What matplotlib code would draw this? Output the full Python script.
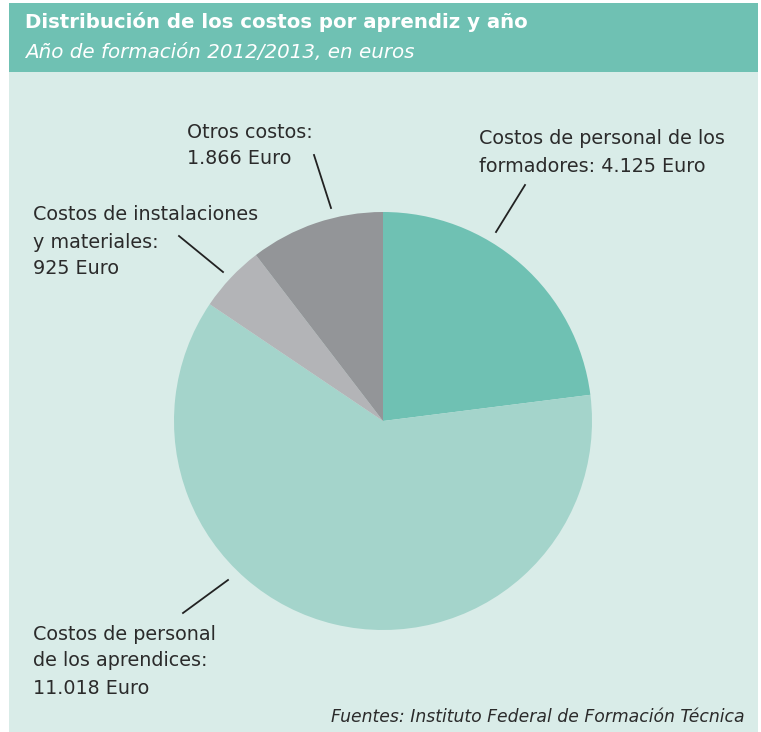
import matplotlib
matplotlib.use("Agg")
import matplotlib.pyplot as plt
from matplotlib.patches import Rectangle
from matplotlib.lines import Line2D

# ---- data ----
categories = [
    "Costos de personal de los formadores",
    "Costos de personal de los aprendices",
    "Costos de instalaciones y materiales",
    "Otros costos",
]
values = [4125, 11018, 925, 1866]
label_texts = [
    "Costos de personal de los\nformadores: 4.125 Euro",
    "Costos de personal\nde los aprendices:\n11.018 Euro",
    "Costos de instalaciones\ny materiales:\n925 Euro",
    "Otros costos:\n1.866 Euro",
]
colors = ["#6fc1b3", "#a4d4cb", "#b3b4b7", "#939598"]

title = "Distribución de los costos por aprendiz y año"
subtitle = "Año de formación 2012/2013, en euros"
source = "Fuentes: Instituto Federal de Formación Técnica"

W, H = 761, 732
fig = plt.figure(figsize=(W / 100, H / 100), dpi=100)
fig.patch.set_facecolor("white")

def fx(x):
    return x / W

def fy(y):
    return 1 - y / H

# panel background
fig.patches.append(Rectangle((fx(9), fy(732)), fx(758) - fx(9), fy(3) - fy(732),
                             transform=fig.transFigure, facecolor="#d9ece8",
                             edgecolor="none", zorder=-3))
# header band
fig.patches.append(Rectangle((fx(9), fy(72)), fx(758) - fx(9), fy(3) - fy(72),
                             transform=fig.transFigure, facecolor="#6fc1b3",
                             edgecolor="none", zorder=-2))

fig.text(fx(25), fy(22), title, color="white", fontsize=14.2, fontweight="bold",
         va="center", ha="left", family="DejaVu Sans")
fig.text(fx(25), fy(53), subtitle, color="white", fontsize=14.3, fontstyle="italic",
         va="center", ha="left", family="DejaVu Sans")

# pie
cx, cy, r = 383, 421, 209
ax = fig.add_axes([fx(cx - r), fy(cy + r), (2 * r) / W, (2 * r) / H])
ax.set_zorder(1)
ax.pie(values, colors=colors, startangle=90, counterclock=False, radius=1,
       wedgeprops=dict(linewidth=0))
ax.set_xlim(-1, 1)
ax.set_ylim(-1, 1)
ax.set_aspect("auto")
ax.axis("off")

# leader lines (pixel coordinates)
leaders = [
    ((496, 232), (525, 185)),
    ((228, 580), (183, 613)),
    ((223, 272), (179, 236)),
    ((331, 208), (314, 155)),
]
for (x0, y0), (x1, y1) in leaders:
    fig.lines.append(Line2D([fx(x0), fx(x1)], [fy(y0), fy(y1)],
                            transform=fig.transFigure, color="#222222", lw=1.3,
                            zorder=2))

# labels: (x, y of first line center)
label_pos = [(479, 139), (33, 634), (33, 215), (187, 132)]
line_h = 27
for txt, (x, y) in zip(label_texts, label_pos):
    for i, line in enumerate(txt.split("\n")):
        fig.text(fx(x), fy(y + i * line_h), line, fontsize=13.8, color="#2b2b2b",
                 ha="left", va="center", family="DejaVu Sans")

fig.text(fx(745), fy(717), source, fontsize=12.4, fontstyle="italic",
         color="#2b2b2b", ha="right", va="center", family="DejaVu Sans")

fig.savefig("out.png", dpi=100)
